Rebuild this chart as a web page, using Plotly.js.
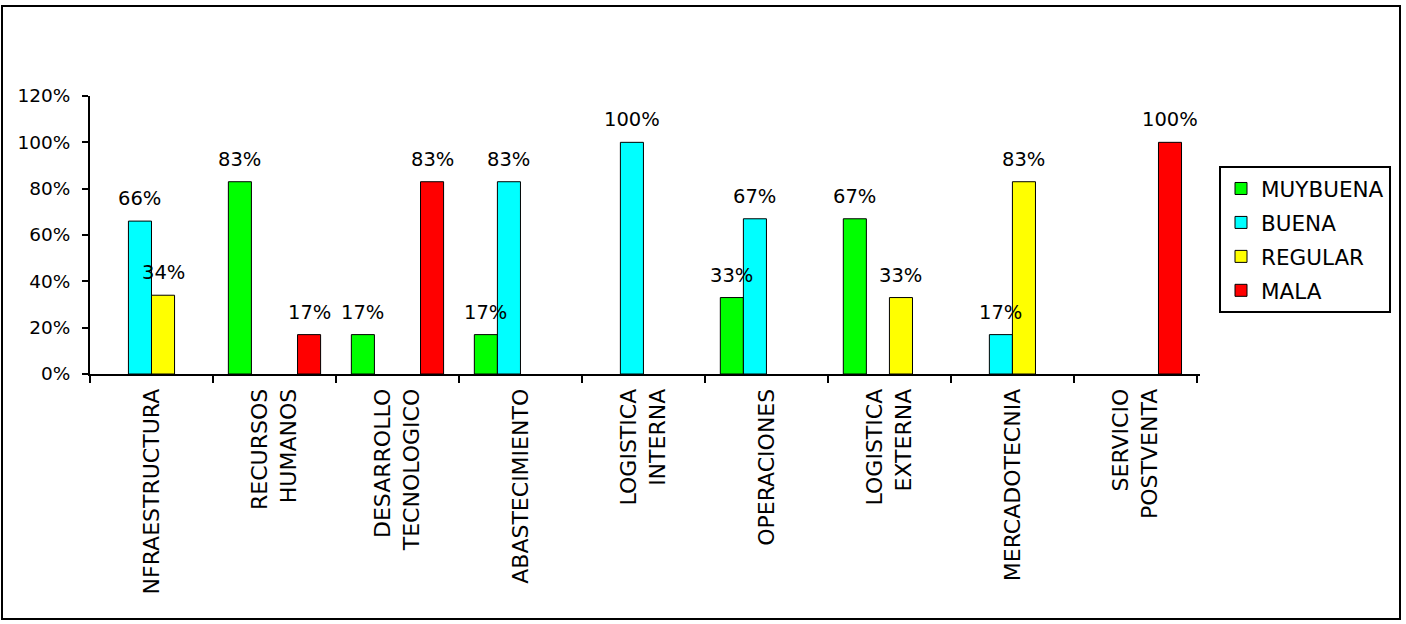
<!DOCTYPE html>
<html>
<head>
<meta charset="utf-8">
<script src="https://cdn.plot.ly/plotly-3.0.1.min.js"></script>
<style>
html,body{margin:0;padding:0;background:#fff;}
#chart{width:1406px;height:624px;}
</style>
</head>
<body>
<div id="chart"></div>
<script>
// ---- data ----
var categories = [
  "NFRAESTRUCTURA",
  "RECURSOS<br>HUMANOS",
  "DESARROLLO<br>TECNOLOGICO",
  "ABASTECIMIENTO",
  "LOGISTICA<br>INTERNA",
  "OPERACIONES",
  "LOGISTICA<br>EXTERNA",
  "MERCADOTECNIA",
  "SERVICIO<br>POSTVENTA"
];
var seriesNames = ["MUYBUENA", "BUENA", "REGULAR", "MALA"];
var muyBuena = [0, 83, 17, 17, 0, 33, 67, 0, 0];
var buena    = [66, 0, 0, 83, 100, 67, 0, 17, 0];
var regular  = [34, 0, 0, 0, 0, 0, 33, 83, 0];
var mala     = [0, 17, 83, 0, 0, 0, 0, 0, 100];
var yTicks = [0, 20, 40, 60, 80, 100, 120];

var seriesValues = [muyBuena, buena, regular, mala];
var colors = ["#00ff00", "#00ffff", "#ffff00", "#ff0000"];
var FONT = "DejaVu Sans, Arial, sans-serif";
var bargap = 0.25;

var traces = seriesValues.map(function (vals, i) {
  return {
    type: "bar",
    name: seriesNames[i],
    legendgroup: "g" + i,
    x: categories,
    y: vals.map(function (v) { return v > 0 ? v : null; }),
    marker: { color: colors[i], line: { color: "#000", width: 1 } },
    hoverinfo: "skip"
  };
});

// value labels above bars, positioned on the category axis index scale
var annotations = [];
var barW = (1 - bargap) / seriesValues.length;
seriesValues.forEach(function (vals, i) {
  vals.forEach(function (v, c) {
    if (v > 0) {
      annotations.push({
        xref: "x", yref: "y",
        x: c + (i - (seriesValues.length - 1) / 2) * barW,
        y: v,
        text: v + "%",
        showarrow: false,
        xanchor: "center", yanchor: "bottom",
        yshift: 9,
        font: { family: FONT, size: 19.5, color: "#000" }
      });
    }
  });
});

var L = 90, R = 206, T = 96, B = 250;
var W = 1406, H = 624;
var pw = W - L - R, ph = H - T - B;
function px2x(p) { return (p - L) / pw; }
function px2y(p) { return (H - B - p) / ph; }

var layout = {
  width: W, height: H,
  margin: { l: L, r: R, t: T, b: B, pad: 0 },
  paper_bgcolor: "#fff",
  plot_bgcolor: "#fff",
  font: { family: FONT, color: "#000" },
  barmode: "group",
  bargap: bargap,
  bargroupgap: 0,
  showlegend: true,
  legend: {
    x: px2x(1219), y: px2y(166), xanchor: "left", yanchor: "top",
    bordercolor: "#000", borderwidth: 2, bgcolor: "#fff",
    font: { family: FONT, size: 21.5, color: "#000" },
    itemwidth: 30,
    traceorder: "grouped",
    tracegroupgap: 3
  },
  xaxis: {
    type: "category",
    tickangle: -90,
    ticks: "outside",
    tickson: "boundaries",
    ticklen: 7,
    tickwidth: 2,
    tickcolor: "#000",
    showline: true, linecolor: "#000", linewidth: 2,
    showgrid: false, zeroline: false,
    automargin: false,
    tickfont: { family: FONT, size: 22, color: "#000" },
    ticklabelstandoff: 4,
    fixedrange: true
  },
  yaxis: {
    range: [0, 120],
    tickvals: yTicks,
    ticktext: yTicks.map(function (t) { return t + "%"; }),
    ticks: "outside",
    ticklen: 6,
    tickwidth: 2,
    tickcolor: "#000",
    showline: true, linecolor: "#000", linewidth: 2,
    showgrid: false, zeroline: false,
    automargin: false,
    tickfont: { family: FONT, size: 18.5, color: "#000" },
    ticklabelstandoff: 8,
    fixedrange: true
  },
  annotations: annotations,
  shapes: [{
    type: "rect", xref: "paper", yref: "paper", layer: "below",
    x0: px2x(2), x1: px2x(1400), y0: px2y(619), y1: px2y(6),
    line: { color: "#000", width: 2 }, fillcolor: "rgba(0,0,0,0)"
  }]
};

Plotly.newPlot("chart", traces, layout, { displayModeBar: false, staticPlot: true });
</script>
</body>
</html>
